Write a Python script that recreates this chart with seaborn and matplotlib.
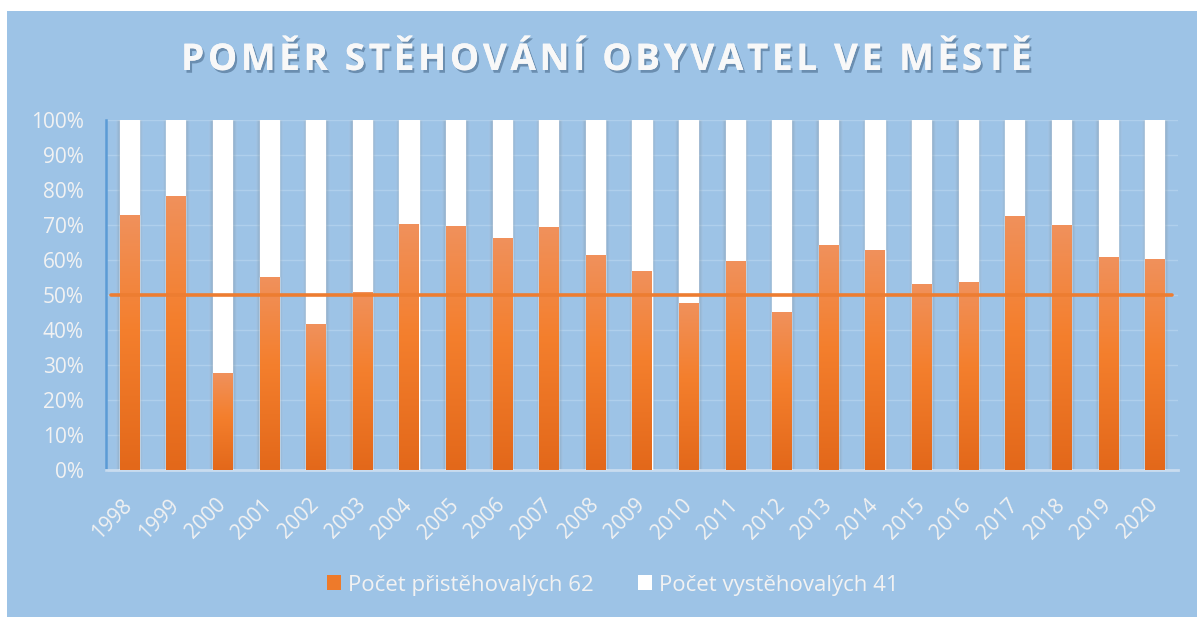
import numpy as np
import pandas as pd
import seaborn as sns
import matplotlib
matplotlib.use("Agg")
import matplotlib.pyplot as plt
from matplotlib.colors import LinearSegmentedColormap
from matplotlib.patches import Rectangle
import matplotlib.patheffects as pe

# ---- data ----
years = [str(y) for y in range(1998, 2021)]
incoming_pct = [72.9, 78.4, 27.7, 55.1, 41.7, 50.9, 70.2, 69.8, 66.4, 69.3, 61.4, 56.9,
                47.8, 59.6, 45.1, 64.2, 63.0, 53.1, 53.6, 72.6, 69.9, 60.8, 60.3]
outgoing_pct = [27.1, 21.6, 72.3, 44.9, 58.3, 49.1, 29.8, 30.2, 33.6, 30.7, 38.6, 43.1,
                52.2, 40.4, 54.9, 35.8, 37.0, 46.9, 46.4, 27.4, 30.1, 39.2, 39.7]
series_in = "Počet přistěhovalých 62"
series_out = "Počet vystěhovalých 41"
title = "POMĚR STĚHOVÁNÍ OBYVATEL VE MĚSTĚ"
reference_level = 0.5
y_ticks = [0, 10, 20, 30, 40, 50, 60, 70, 80, 90, 100]

# ---- style ----
BG = "#9DC3E6"
TXT = "#F2F2F2"
ORANGE = "#ED7D31"
sns.set_theme(style="white")
plt.rcParams['font.family'] = ['Open Sans', 'DejaVu Sans']

df = pd.DataFrame({"year": years,
                   "inc": np.array(incoming_pct) / 100.0,
                   "tot": (np.array(incoming_pct) + np.array(outgoing_pct)) / 100.0})

fig = plt.figure(figsize=(11.97, 6.17), dpi=100)
fig.patch.set_facecolor("white")
bg = Rectangle((7 / 1197, 0), 1 - 7 / 1197, 1 - 11 / 617,
               transform=fig.transFigure, facecolor=BG, edgecolor="none", zorder=-10)
fig.add_artist(bg)

ax = fig.add_axes([106 / 1197, 1 - 470 / 617, 1072 / 1197, 350 / 617])
ax.set_zorder(2)
ax.set_facecolor("none")

W = 0.41
# soft shadows behind bars
for k, a in [(7, 0.06), (5, 0.08), (3, 0.11), (1.5, 0.15)]:
    sns.barplot(data=df, x="year", y="tot", ax=ax, color="#23415F", alpha=a,
                width=W + k * 0.022, saturation=1, errorbar=None, zorder=1)
sns.barplot(data=df, x="year", y="tot", ax=ax, color="white", width=W,
            saturation=1, errorbar=None, zorder=3)
sns.barplot(data=df, x="year", y="inc", ax=ax, color=ORANGE, width=W,
            saturation=1, errorbar=None, zorder=4)

# gradient fill on orange bars
cmap = LinearSegmentedColormap.from_list(
    "og", [(0.0, "#E3681A"), (0.55, "#F47F2D"), (1.0, "#F0915C")])
grad = np.linspace(0, 1, 256).reshape(-1, 1)
orange_patches = ax.patches[-len(years):]
for p in orange_patches:
    x0, w, h = p.get_x(), p.get_width(), p.get_height()
    im = ax.imshow(grad, cmap=cmap, origin="lower", aspect="auto",
                   extent=[x0, x0 + w, 0, h], zorder=5)
    im.set_clip_path(p)

ax.axhline(reference_level, xmin=0.005, xmax=0.994, color=ORANGE, lw=2.6, zorder=6)

ax.set_xlim(-0.5, len(years) - 0.5)
ax.set_ylim(0, 1)
ax.set_yticks([t / 100 for t in y_ticks])
ax.set_yticklabels([f"{t}%" for t in y_ticks])
ax.yaxis.grid(True, color="#AFCFEC", lw=1.0, zorder=0)
ax.set_axisbelow(True)
ax.set_xlabel("")
ax.set_ylabel("")
for s in ["top", "right"]:
    ax.spines[s].set_visible(False)
ax.spines["left"].set_color("#5B9BD5")
ax.spines["left"].set_linewidth(1.8)
ax.spines["bottom"].set_color("#C9DCEF")
ax.spines["bottom"].set_linewidth(2)
ax.tick_params(axis="y", colors=TXT, labelsize=15, length=0, pad=16)
ax.tick_params(axis="x", colors=TXT, labelsize=15, length=0, pad=23)
for lab in ax.get_xticklabels():
    lab.set_rotation(45)
    lab.set_ha("right")
    lab.set_va("center")
    lab.set_rotation_mode("anchor")

spaced_title = "\u200a".join(title)
fig.text(0.505, 1 - 60 / 617, spaced_title, ha="center", va="center", color="#F8F8F8",
         fontsize=26.5, fontweight="bold",
         path_effects=[pe.withSimplePatchShadow(offset=(1.5, -2), shadow_rgbFace="#2F4F6F",
                                                alpha=0.45), pe.Normal()])

handles = [Rectangle((0, 0), 1, 1, facecolor="#EE7A2A", edgecolor="none"),
           Rectangle((0, 0), 1, 1, facecolor="white", edgecolor="none")]
leg = fig.legend(handles, [series_in, series_out], loc="center",
                 bbox_to_anchor=(613 / 1197, 1 - 585 / 617), ncol=2, frameon=False,
                 fontsize=16, handlelength=0.62, handleheight=0.62, handletextpad=0.33,
                 columnspacing=2.0)
for t in leg.get_texts():
    t.set_color(TXT)

fig.savefig("out.png", dpi=100, facecolor=fig.get_facecolor())
